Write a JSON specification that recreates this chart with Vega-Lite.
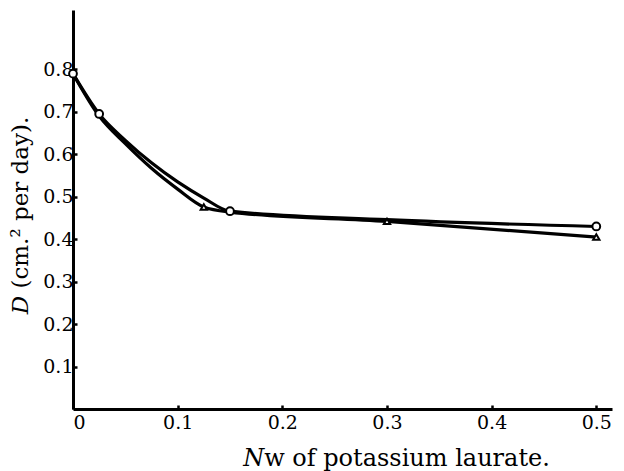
{
  "$schema": "https://vega.github.io/schema/vega-lite/v6.json",
  "width": 539,
  "height": 399,
  "autosize": {"type": "none"},
  "padding": {"left": 73, "top": 10, "right": 12, "bottom": 62},
  "background": "white",
  "config": {
    "view": {"stroke": null},
    "font": "DejaVu Serif",
    "axis": {"grid": false, "domainColor": "black", "domainWidth": 3, "tickColor": "black", "tickWidth": 2.5, "tickSize": -4, "labelColor": "black", "titleColor": "black", "labelFont": "DejaVu Serif", "titleFont": "DejaVu Serif", "labelFontSize": 19, "titleFontSize": 22, "titleFontWeight": "normal"}
  },
  "datasets": {
    "curves": [
      {"x": 0, "y": 0.79, "s": "circle"},
      {"x": 0.025, "y": 0.695, "s": "circle"},
      {"x": 0.05, "y": 0.633, "s": "circle"},
      {"x": 0.075, "y": 0.58, "s": "circle"},
      {"x": 0.1, "y": 0.535, "s": "circle"},
      {"x": 0.125, "y": 0.497, "s": "circle"},
      {"x": 0.15, "y": 0.466, "s": "circle"},
      {"x": 0.3, "y": 0.446, "s": "circle"},
      {"x": 0.5, "y": 0.43, "s": "circle"},
      {"x": 0, "y": 0.79, "s": "triangle"},
      {"x": 0.025, "y": 0.69, "s": "triangle"},
      {"x": 0.05, "y": 0.625, "s": "triangle"},
      {"x": 0.075, "y": 0.567, "s": "triangle"},
      {"x": 0.1, "y": 0.518, "s": "triangle"},
      {"x": 0.125, "y": 0.476, "s": "triangle"},
      {"x": 0.15, "y": 0.464, "s": "triangle"},
      {"x": 0.3, "y": 0.442, "s": "triangle"},
      {"x": 0.5, "y": 0.405, "s": "triangle"}
    ],
    "pts": [
      {"x": 0, "y": 0.79, "s": "circle"},
      {"x": 0.025, "y": 0.695, "s": "circle"},
      {"x": 0.15, "y": 0.466, "s": "circle"},
      {"x": 0.5, "y": 0.43, "s": "circle"},
      {"x": 0.125, "y": 0.476, "s": "triangle"},
      {"x": 0.3, "y": 0.442, "s": "triangle"},
      {"x": 0.5, "y": 0.405, "s": "triangle"}
    ]
  },
  "layer": [
    {
      "data": {"name": "curves"},
      "mark": {"type": "line", "interpolate": "monotone", "color": "black", "strokeWidth": 3.2},
      "encoding": {
        "x": {"field": "x", "type": "quantitative", "scale": {"domain": [0, 0.515], "nice": false}, "axis": {"values": [0, 0.1, 0.2, 0.3, 0.4, 0.5], "format": "~g", "labelPadding": 8, "title": "𝑁w of potassium laurate.", "titleFontSize": 24, "titleX": 323, "titlePadding": 14}},
        "y": {"field": "y", "type": "quantitative", "scale": {"domain": [0, 0.94], "nice": false}, "axis": {"values": [0.1, 0.2, 0.3, 0.4, 0.5, 0.6, 0.7, 0.8], "format": ".1f", "labelPadding": 4, "title": "𝐷 (cm.² per day).", "titleFontSize": 23, "titleX": -53, "titleY": 205, "titleBaseline": "middle", "titleAngle": -90}},
        "detail": {"field": "s"}
      }
    },
    {
      "data": {"name": "pts"},
      "mark": {"type": "point", "filled": true, "fill": "white", "stroke": "black", "strokeWidth": 2, "opacity": 1},
      "encoding": {
        "x": {"field": "x", "type": "quantitative"},
        "y": {"field": "y", "type": "quantitative"},
        "shape": {"field": "s", "type": "nominal", "scale": {"domain": ["circle", "triangle"], "range": ["circle", "triangle-up"]}, "legend": null},
        "size": {"field": "s", "type": "nominal", "scale": {"domain": ["circle", "triangle"], "range": [60, 40]}, "legend": null}
      }
    }
  ]
}
